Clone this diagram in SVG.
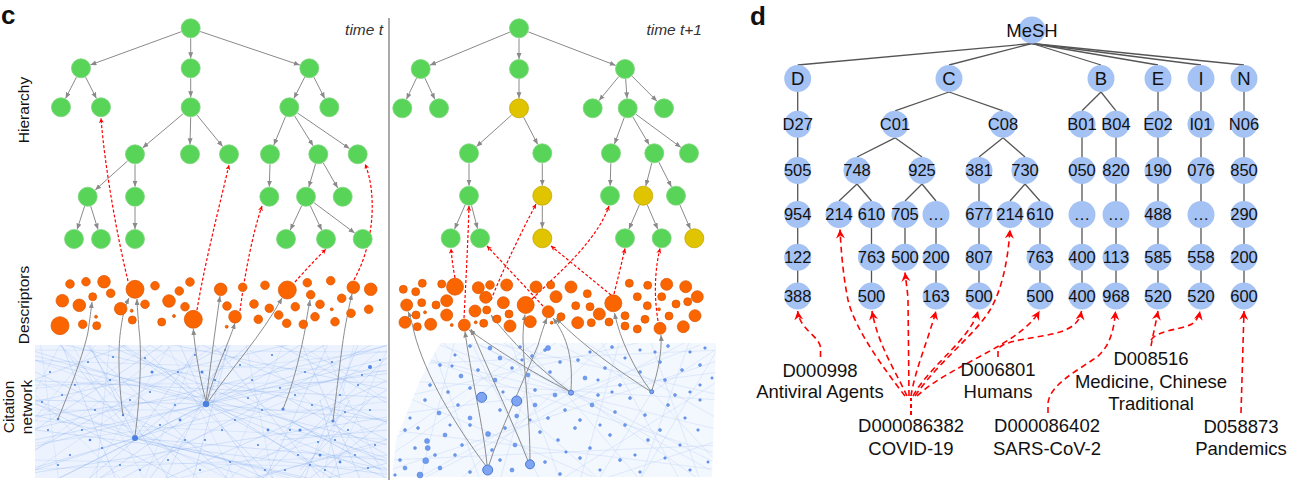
<svg xmlns="http://www.w3.org/2000/svg" width="1295" height="487" viewBox="0 0 1295 487">
<style>
text{font-family:"Liberation Sans",Arial,sans-serif;fill:#111}
.panel{font-size:26px;font-weight:bold}
.time{font-size:15.5px;font-style:italic;fill:#333}
.axis{font-size:15.5px}
.te{stroke:#8a8a8a;stroke-width:1;fill:none;marker-end:url(#mg)}
.g{fill:#58d558;stroke:#7fd37f;stroke-width:0.8}
.y{fill:#e0c400;stroke:#c4a800;stroke-width:0.8}
.o{fill:#fb6500;stroke:#d85400;stroke-width:0.7}
.rc{stroke:#f00;stroke-width:1.2;fill:none;stroke-dasharray:3 2;marker-end:url(#mrc)}
.ca{stroke:#8c8c8c;stroke-width:1;fill:none;marker-end:url(#mg)}
.nl{stroke:#6f9de9;stroke-width:0.4;fill:none;opacity:0.6}
.nl2{stroke:#9dbdf3;stroke-width:0.35;fill:none;opacity:0.7}
.nr{stroke:#a9c5f5;stroke-width:0.4;fill:none;opacity:0.7}
.dl{fill:#4d86e8}
.dr{fill:#6f9cf0;stroke:#4f7fdc;stroke-width:0.5}
.bn{fill:#7fa5f2;stroke:#3f6fcc;stroke-width:0.9}
.de{stroke:#555;stroke-width:1.3}
.dn{fill:#a4c2f4}
.nt{font-size:16.5px;text-anchor:middle}
.nt1{font-size:18.5px;text-anchor:middle}
.lb{font-size:18.5px;text-anchor:middle}
.ra{stroke:#f00;stroke-width:1.6;fill:none;stroke-dasharray:6 4;marker-end:url(#mrd)}
</style>
<defs>
<marker id="mg" markerUnits="userSpaceOnUse" markerWidth="6" markerHeight="6" refX="6" refY="2.5" orient="auto"><path d="M0,0 L6,2.5 L0,5 z" fill="#8a8a8a"/></marker>
<marker id="mrc" markerUnits="userSpaceOnUse" markerWidth="6" markerHeight="6" refX="5" refY="2.5" orient="auto"><path d="M0,0 L5,2.5 L0,5 L1.5,2.5 z" fill="#f00"/></marker>
<marker id="mrd" markerUnits="userSpaceOnUse" markerWidth="10" markerHeight="10" refX="9" refY="4.5" orient="auto"><path d="M0,0 L9,4.5 L0,9 L3,4.5 z" fill="#f00"/></marker>
<clipPath id="cl"><rect x="35" y="345" width="352" height="133"/></clipPath>
<clipPath id="cr"><polygon points="440,343 716,343 712,477 392,477 396,440 420,380"/></clipPath>
</defs>

<!-- Panel labels -->
<text class="panel" x="1" y="24">c</text>
<text class="panel" x="750" y="25">d</text>
<text class="time" x="383" y="35" text-anchor="end">time t</text>
<text class="time" x="702" y="35" text-anchor="end">time t+1</text>
<line x1="389" y1="18" x2="389" y2="480" stroke="#8c8c8c" stroke-width="1.5"/>
<text class="axis" transform="translate(28.5,110) rotate(-90)" text-anchor="middle">Hierarchy</text>
<text class="axis" transform="translate(28.5,305) rotate(-90)" text-anchor="middle">Descriptors</text>
<text class="axis" transform="translate(14,407) rotate(-90)" text-anchor="middle">Citation</text>
<text class="axis" transform="translate(31.5,407) rotate(-90)" text-anchor="middle">network</text>

<!-- Citation network left -->
<g id="citation-left">
<rect x="35" y="345" width="352" height="133" fill="#edf3fe"/>
<g clip-path="url(#cl)">
<path class="nl2" d="M20,360L400,372M20,390L400,350M20,420L400,440M20,445L400,400M20,470L400,455M40,340L60,490M70,340L150,490M110,340L95,490M165,340L240,490M200,340L140,490M245,340L275,490M285,340L220,490M320,340L390,490M355,340L320,490M20,372L250,490M20,400L330,490M20,436L100,340M20,462L180,340M140,340L400,480M260,340L400,385M20,355L200,420M180,478L400,420M100,478L300,395M250,478L400,440M20,380L120,478M300,345L387,400M60,345L20,420M380,350L230,478M150,345L20,430M330,478L387,350M215,345L35,470M250,350L387,470M90,478L170,345M40,410L387,410M35,385L387,382M35,460L387,468M35,350L387,352"/>
<path class="nl" d="M20,352L400,448M20,472L400,360M55,340L210,490M115,340L350,490M20,405L310,340M140,490L400,375M20,428L400,476M75,490L255,340M190,340L400,428M20,380L400,398M250,490L400,345M20,458L235,340M95,340L400,468M175,490L85,340M300,340L365,490M20,347L400,462M35,490L335,340M215,490L400,436M20,418L400,372M135,340L285,490M20,440L170,340M60,340L120,490M230,340L190,490M270,340L400,410M20,395L200,490M330,340L260,490M20,365L290,490M150,340L400,392M20,475L400,415M360,340L300,490M45,340L400,425M20,450L400,355M100,490L380,340M20,385L140,340M280,490L400,460M210,340L330,490M20,412L360,490M80,340L240,490M160,490L230,340M20,432L390,345"/>
<path class="nl" d="M206,404L35,360M206,404L60,478M206,404L387,370M206,404L387,478M206,404L120,345M206,404L300,345M206,404L150,478M206,404L260,478M206,404L35,440M206,404L387,420M206,404L230,345M206,404L180,345M206,404L35,400M206,404L340,478M206,404L387,345M206,404L100,478M135,438L35,470M135,438L90,345M135,438L250,478M135,438L387,460M135,438L35,400M135,438L200,345M135,438L60,345M135,438L300,478M290,420L380,470M300,470L370,400M280,440L387,430M320,400L340,478M260,460L387,390M350,400L300,478M290,400L387,455M310,478L387,420M300,450L387,470M330,410L387,440"/>
<g class="dl">
<circle cx="50" cy="372" r="1.1"/><circle cx="62" cy="395" r="1.1"/><circle cx="48" cy="430" r="1.1"/><circle cx="70" cy="455" r="1.1"/><circle cx="88" cy="362" r="1.1"/><circle cx="95" cy="410" r="1.1"/><circle cx="110" cy="380" r="1.1"/><circle cx="102" cy="448" r="1.1"/><circle cx="120" cy="465" r="1.1"/><circle cx="145" cy="358" r="1.1"/><circle cx="150" cy="392" r="1.1"/><circle cx="160" cy="425" r="1.1"/><circle cx="168" cy="460" r="1.1"/><circle cx="178" cy="372" r="1.1"/><circle cx="185" cy="440" r="1.1"/><circle cx="195" cy="355" r="1.1"/><circle cx="215" cy="380" r="1.1"/><circle cx="222" cy="430" r="1.1"/><circle cx="230" cy="462" r="1.1"/><circle cx="240" cy="365" r="1.1"/><circle cx="248" cy="398" r="1.1"/><circle cx="258" cy="445" r="1.1"/><circle cx="265" cy="470" r="1.1"/><circle cx="272" cy="355" r="1.1"/><circle cx="280" cy="388" r="1.1"/><circle cx="290" cy="430" r="1.1"/><circle cx="298" cy="455" r="1.1"/><circle cx="305" cy="372" r="1.1"/><circle cx="312" cy="405" r="1.1"/><circle cx="318" cy="442" r="1.1"/><circle cx="325" cy="470" r="1.1"/><circle cx="332" cy="362" r="1.1"/><circle cx="340" cy="395" r="1.1"/><circle cx="348" cy="430" r="1.1"/><circle cx="355" cy="455" r="1.1"/><circle cx="362" cy="375" r="1.1"/><circle cx="370" cy="410" r="1.1"/><circle cx="375" cy="445" r="1.1"/><circle cx="380" cy="360" r="1.1"/><circle cx="58" cy="465" r="1.1"/><circle cx="75" cy="385" r="1.1"/><circle cx="130" cy="400" r="1.1"/><circle cx="140" cy="470" r="1.1"/><circle cx="175" cy="405" r="1.1"/><circle cx="200" cy="470" r="1.1"/><circle cx="235" cy="420" r="1.1"/><circle cx="262" cy="410" r="1.1"/><circle cx="295" cy="395" r="1.1"/><circle cx="310" cy="465" r="1.1"/><circle cx="345" cy="412" r="1.1"/><circle cx="368" cy="468" r="1.1"/><circle cx="42" cy="402" r="1.1"/><circle cx="82" cy="430" r="1.1"/><circle cx="113" cy="357" r="1.1"/><circle cx="205" cy="440" r="1.1"/><circle cx="225" cy="350" r="1.1"/><circle cx="252" cy="380" r="1.1"/><circle cx="285" cy="470" r="1.1"/><circle cx="335" cy="440" r="1.1"/><circle cx="358" cy="385" r="1.1"/>
<circle cx="152" cy="372" r="1.5"/><circle cx="202" cy="372" r="1.5"/><circle cx="180" cy="420" r="1.4"/><circle cx="300" cy="430" r="1.6"/><circle cx="320" cy="455" r="1.5"/><circle cx="340" cy="462" r="1.4"/><circle cx="90" cy="440" r="1.3"/><circle cx="268" cy="430" r="1.4"/>
<circle cx="58" cy="419" r="1.3"/><circle cx="123" cy="415" r="1.2"/><circle cx="283" cy="409" r="1.6"/><circle cx="333" cy="421" r="1.6"/><circle cx="370" cy="367" r="2"/>
<circle cx="206" cy="404" r="3.2" fill="#4a80e0"/><circle cx="135" cy="438" r="3" fill="#4a80e0"/>
</g>
</g>
</g>

<!-- Citation network right -->
<g id="citation-right">
<polygon points="440,343 716,343 712,477 392,477 396,440 420,380" fill="#f3f7fe"/>
<g clip-path="url(#cr)">
<path class="nr" d="M390,350L720,430M390,470L720,360M440,340L600,480M500,340L700,480M390,400L650,340M560,480L720,380M390,430L720,470M460,480L610,340M580,340L720,420M390,380L720,400M640,480L720,345M390,455L560,340M470,340L720,465M540,480L470,340M650,340L700,480M390,348L720,455M420,480L690,340M600,480L720,440M390,415L720,372M520,340L640,480M390,442L540,340M430,340L480,480M620,340L580,480M571,393L440,345M571,393L700,345M571,393L420,477M571,393L710,470M571,393L480,345M652,392L715,350M652,392L600,477M652,392L715,460M652,392L560,345M390,365L720,350M390,460L720,445M455,340L420,480M510,340L560,480M600,340L680,480M690,340L640,480M540,340L500,480M390,390L600,480M480,340L720,395"/>
</g>
<g class="dr">
<circle cx="470" cy="346" r="1.5"/><circle cx="490" cy="348" r="2"/><circle cx="520" cy="347" r="1.5"/><circle cx="545" cy="350" r="1.5"/><circle cx="548" cy="348" r="2.5"/><circle cx="590" cy="352" r="1.3"/><circle cx="612" cy="347" r="1.5"/><circle cx="640" cy="350" r="1.3"/><circle cx="668" cy="346" r="1.5"/><circle cx="690" cy="352" r="1.3"/><circle cx="705" cy="348" r="1.3"/><circle cx="455" cy="355" r="1.3"/><circle cx="500" cy="358" r="2"/><circle cx="532" cy="356" r="1.5"/><circle cx="578" cy="360" r="1.5"/><circle cx="625" cy="358" r="1.3"/><circle cx="660" cy="362" r="1.5"/><circle cx="700" cy="365" r="1.5"/>
<circle cx="440" cy="365" r="1.5"/><circle cx="461" cy="376" r="2"/><circle cx="478" cy="370" r="1.5"/><circle cx="495" cy="380" r="2"/><circle cx="512" cy="368" r="1.5"/><circle cx="528" cy="375" r="2"/><circle cx="550" cy="372" r="1.5"/><circle cx="585" cy="378" r="2"/><circle cx="605" cy="368" r="1.5"/><circle cx="620" cy="385" r="1.5"/><circle cx="640" cy="372" r="1.5"/><circle cx="665" cy="380" r="1.5"/><circle cx="682" cy="370" r="1.5"/><circle cx="700" cy="385" r="1.3"/><circle cx="430" cy="385" r="1.5"/><circle cx="448" cy="392" r="1.5"/><circle cx="535" cy="390" r="1.5"/><circle cx="555" cy="395" r="2"/><circle cx="598" cy="395" r="1.5"/><circle cx="675" cy="395" r="1.5"/><circle cx="712" cy="378" r="1.2"/>
<circle cx="425" cy="400" r="1.5"/><circle cx="439" cy="413" r="2"/><circle cx="458" cy="405" r="1.5"/><circle cx="470" cy="418" r="2"/><circle cx="500" cy="410" r="1.5"/><circle cx="516.7" cy="416" r="2"/><circle cx="535" cy="405" r="2"/><circle cx="548" cy="418" r="1.5"/><circle cx="565" cy="410" r="1.5"/><circle cx="580" cy="420" r="1.5"/><circle cx="592" cy="405" r="2"/><circle cx="615" cy="412" r="1.5"/><circle cx="630" cy="398" r="1.5"/><circle cx="645" cy="415" r="1.5"/><circle cx="668" cy="405" r="1.5"/><circle cx="685" cy="418" r="1.3"/><circle cx="700" cy="400" r="1.3"/><circle cx="410" cy="418" r="1.3"/>
<circle cx="405" cy="430" r="1.5"/><circle cx="427" cy="441" r="2.5"/><circle cx="427.7" cy="448" r="2.5"/><circle cx="418" cy="428" r="1.5"/><circle cx="445" cy="435" r="2"/><circle cx="462" cy="445" r="1.5"/><circle cx="488" cy="434" r="2.5"/><circle cx="505" cy="428" r="1.5"/><circle cx="515" cy="445" r="2"/><circle cx="540" cy="432" r="1.5"/><circle cx="558" cy="440" r="1.5"/><circle cx="575" cy="428" r="1.5"/><circle cx="590" cy="448" r="1.5"/><circle cx="610" cy="435" r="1.5"/><circle cx="625" cy="425" r="1.5"/><circle cx="648" cy="440" r="1.5"/><circle cx="660" cy="430" r="1.5"/><circle cx="680" cy="445" r="1.3"/><circle cx="698" cy="430" r="1.3"/><circle cx="470" cy="425" r="1.5"/>
<circle cx="400" cy="460" r="1.5"/><circle cx="420" cy="475" r="3"/><circle cx="425.7" cy="460.7" r="3"/><circle cx="440" cy="468" r="2"/><circle cx="455" cy="455" r="1.5"/><circle cx="470" cy="472" r="1.5"/><circle cx="500" cy="460" r="1.5"/><circle cx="512" cy="470" r="2"/><circle cx="545" cy="462" r="1.5"/><circle cx="560" cy="474" r="1.5"/><circle cx="580" cy="458" r="1.5"/><circle cx="600" cy="470" r="1.3"/><circle cx="620" cy="460" r="1.5"/><circle cx="640" cy="472" r="1.3"/><circle cx="665" cy="458" r="1.3"/><circle cx="690" cy="470" r="1.3"/><circle cx="708" cy="462" r="1.2"/><circle cx="395" cy="475" r="1.3"/>
<circle cx="452" cy="366" r="1.3"/><circle cx="470" cy="388" r="1.5"/><circle cx="503" cy="392" r="1.3"/><circle cx="522" cy="360" r="1.3"/><circle cx="560" cy="362" r="1.5"/><circle cx="598" cy="380" r="1.3"/><circle cx="612" cy="392" r="1.3"/><circle cx="655" cy="352" r="1.3"/><circle cx="690" cy="392" r="1.3"/><circle cx="450" cy="425" r="1.3"/><circle cx="492" cy="450" r="1.5"/><circle cx="530" cy="420" r="1.3"/><circle cx="566" cy="452" r="1.3"/><circle cx="600" cy="425" r="1.3"/><circle cx="635" cy="455" r="1.3"/><circle cx="415" cy="448" r="1.5"/><circle cx="405" cy="468" r="2"/><circle cx="435" cy="455" r="1.5"/>
</g>
</g>

<!-- Connectors -->
<g id="connectors">
<!-- left hierarchy edges -->
<path class="te" d="M181.3,31.7L90.4,64.9"/>
<path class="te" d="M190.7,38.3L190.7,58.3"/>
<path class="te" d="M200.2,31.5L299.8,65.1"/>
<path class="te" d="M76.4,77.2L65.6,98.4"/>
<path class="te" d="M85.6,77.2L96.4,98.4"/>
<path class="te" d="M190.7,78.3L190.7,97.3"/>
<path class="te" d="M304.7,77.2L293.9,98.4"/>
<path class="te" d="M313.9,77.2L324.7,98.4"/>
<path class="te" d="M183.1,113.8L142.6,147.9"/>
<path class="te" d="M190.7,117.3L190,144.3"/>
<path class="te" d="M197,115.1L222.7,146.5"/>
<path class="te" d="M285.5,116.6L273.8,145.1"/>
<path class="te" d="M294.6,115.8L313.1,145.8"/>
<path class="te" d="M297.5,113L349.5,148.6"/>
<path class="te" d="M127.5,161L95.2,190"/>
<path class="te" d="M135,164.3L135,186.7"/>
<path class="te" d="M270,164.3L269.3,186.7"/>
<path class="te" d="M315.5,163.9L308.8,187.1"/>
<path class="te" d="M323.3,163L337.7,188"/>
<path class="te" d="M84.6,206.2L77.1,229.5"/>
<path class="te" d="M90.7,206.2L98,229.5"/>
<path class="te" d="M135,206.7L135,229"/>
<path class="te" d="M301.7,205.7L290.3,230"/>
<path class="te" d="M310.3,205.7L321.7,230"/>
<path class="te" d="M314,202.7L354.7,233"/>
<!-- right hierarchy edges -->
<path class="te" d="M509.8,32.1L429.9,65.2"/>
<path class="te" d="M519,38.3L519,59"/>
<path class="te" d="M528.3,31.9L615.7,65.4"/>
<path class="te" d="M416.5,78.1L406.5,99.2"/>
<path class="te" d="M424.9,78.1L434.8,99.2"/>
<path class="te" d="M519,79L519,98.3"/>
<path class="te" d="M618.7,76.7L599,100.6"/>
<path class="te" d="M625.7,79L627,98.3"/>
<path class="te" d="M632,76.1L657,101.2"/>
<path class="te" d="M511.6,115L476.4,146.6"/>
<path class="te" d="M523.6,117.2L537.7,144.4"/>
<path class="te" d="M624.2,117.7L614.5,143.9"/>
<path class="te" d="M632.8,116.9L649.2,144.7"/>
<path class="te" d="M635.8,114.2L680.9,147.4"/>
<path class="te" d="M469,163.3L469,185.7"/>
<path class="te" d="M542.3,163.3L542.3,185.7"/>
<path class="te" d="M610.8,163.3L610.2,185.7"/>
<path class="te" d="M651.8,163L645.8,186"/>
<path class="te" d="M658.9,162.2L671.4,186.8"/>
<path class="te" d="M465.1,204.9L454.6,229.1"/>
<path class="te" d="M471.5,205.4L477.5,228.6"/>
<path class="te" d="M542.3,205.7L542.3,228.3"/>
<path class="te" d="M639.4,204.9L628.9,229.1"/>
<path class="te" d="M647.3,204.9L657.7,229.1"/>
<path class="te" d="M679.9,204.9L690.4,229.1"/>
<!-- citation to descriptor arrows, left -->
<path class="ca" d="M58,419C70,390 84,352 88,332C90,318 91,310 92,302"/>
<path class="ca" d="M123,415C118,380 118,345 121,328C123,312 126,304 129,298"/>
<path class="ca" d="M135,436C140,400 142,350 139,330C138,315 137,305 137,299"/>
<path class="ca" d="M206,401C200,380 195,350 193.3,329"/>
<path class="ca" d="M206,401C210,370 215,330 220,296"/>
<path class="ca" d="M207,401C215,370 228,345 235,323"/>
<path class="ca" d="M208,402C230,370 262,335 282,298"/>
<path class="ca" d="M283,409C295,380 302,345 305,330C307,315 309,306 310,300"/>
<path class="ca" d="M333,421C338,380 342,345 345,328C348,312 350,302 352,294"/>
<!-- citation to descriptor arrows, right -->
<path class="ca" d="M486,466C455,425 425,375 414,332C412,322 410,316 408,311.5"/>
<path class="ca" d="M487,465C484,430 470,370 465,331.5"/>
<path class="ca" d="M489,465C500,430 520,390 538,345C541,335 544,325 547,318"/>
<path class="ca" d="M528,461C512,420 488,370 471,329"/>
<path class="ca" d="M569,391C530,372 490,345 469,330"/>
<path class="ca" d="M569,391C540,370 510,340 491,315"/>
<path class="ca" d="M530,460C530,420 524,370 523,340C523,328 524,320 525,314.5"/>
<path class="ca" d="M571,390C573,360 568,338 553,318"/>
<path class="ca" d="M650,391C620,372 582,345 556,318"/>
<path class="ca" d="M650,390C635,370 620,340 614.5,313"/>
<path class="ca" d="M652,390C658,372 662,352 661,335"/>
<!-- red dotted descriptor to hierarchy, left -->
<path class="rc" d="M128,281C118,240 105,170 101,118"/>
<path class="rc" d="M197,310C205,262 218,212 229,165"/>
<path class="rc" d="M240,311C245,272 253,232 262,206"/>
<path class="rc" d="M295,282Q310,265 326,249"/>
<path class="rc" d="M354,280C376,240 376,190 365,164"/>
<!-- red dotted descriptor to hierarchy, right -->
<path class="rc" d="M455,278Q452,262 451,248.5"/>
<path class="rc" d="M464,318C466,280 468,240 469,206"/>
<path class="rc" d="M543,306L487,246"/>
<path class="rc" d="M491,300C505,265 520,235 536,204"/>
<path class="rc" d="M532,299C562,270 597,240 609,206"/>
<path class="rc" d="M611,295L551,246"/>
<path class="rc" d="M614,294Q620,270 625,248.5"/>
<path class="rc" d="M658,321C653,290 656,265 660,248.5"/>
<!-- panel d edges -->
<g class="de">
<line x1="1032" y1="43.5" x2="797.7" y2="65"/><line x1="1032" y1="43.5" x2="949" y2="65"/><line x1="1032" y1="43.5" x2="1101" y2="65"/><line x1="1032" y1="43.5" x2="1158" y2="65"/><line x1="1032" y1="43.5" x2="1201" y2="65"/><line x1="1032" y1="43.5" x2="1244" y2="65"/>
<line x1="797.7" y1="78.5" x2="797.7" y2="296"/>
<line x1="949" y1="92" x2="895" y2="110.8"/><line x1="949" y1="92" x2="1003" y2="110.8"/>
<line x1="895" y1="137.8" x2="857" y2="157"/><line x1="895" y1="137.8" x2="922" y2="157"/>
<line x1="857" y1="184" x2="839" y2="201"/><line x1="857" y1="184" x2="871.5" y2="201"/>
<line x1="871.5" y1="214.5" x2="871.5" y2="296"/>
<line x1="922" y1="184" x2="905" y2="201"/><line x1="922" y1="184" x2="936" y2="201"/>
<line x1="905" y1="214.5" x2="905" y2="257.3"/><line x1="936" y1="214.5" x2="936" y2="296"/>
<line x1="1003" y1="137.8" x2="979" y2="157"/><line x1="1003" y1="137.8" x2="1025" y2="157"/>
<line x1="979" y1="170.5" x2="979" y2="296"/>
<line x1="1025" y1="184" x2="1010" y2="201"/><line x1="1025" y1="184" x2="1040" y2="201"/>
<line x1="1040" y1="214.5" x2="1040" y2="296"/>
<line x1="1101" y1="92" x2="1082" y2="110.8"/><line x1="1101" y1="92" x2="1116" y2="110.8"/>
<line x1="1082" y1="124.3" x2="1082" y2="296"/><line x1="1116" y1="124.3" x2="1116" y2="296"/>
<line x1="1158" y1="78.5" x2="1158" y2="296"/><line x1="1201" y1="78.5" x2="1201" y2="296"/><line x1="1244" y1="78.5" x2="1244" y2="296"/>
</g>
<!-- panel d red arrows -->
<path class="ra" d="M820.5,357L820.5,347C818,335 800,330 797.7,311"/>
<path d="M911,415L911,398" stroke="#f00" stroke-width="2" stroke-dasharray="4 3" fill="none"/>
<path class="ra" d="M905,396C885,370 855,330 848,300C843,275 841,250 840,229.5"/>
<path class="ra" d="M907,396C895,370 878,345 872,311"/>
<path class="ra" d="M909,396L908,300C907.5,290 906,282 905,272.5"/>
<path class="ra" d="M911,396C915,370 928,340 936,311"/>
<path class="ra" d="M913,396C930,365 970,340 978,311"/>
<path class="ra" d="M915,396C940,360 975,335 990,310C1002,290 1008,260 1010,229.5"/>
<path class="ra" d="M917,396C950,365 1020,345 1039.5,311"/>
<path class="ra" d="M998,357L998,350C1000,340 1040,338 1060,332C1075,327 1080,320 1081.5,311"/>
<path class="ra" d="M1048,413L1048,403C1050,385 1075,372 1097,357C1110,346 1114,330 1115.5,311"/>
<path class="ra" d="M1151,346C1153,335 1156,322 1158,311"/>
<path class="ra" d="M1151,340C1158,330 1180,330 1192,324C1197,320 1199,316 1200,311"/>
<path class="ra" d="M1241,413L1244,311"/>
</g>

<!-- Hierarchy nodes left -->
<g id="hier-left">
<circle class="g" cx="190.7" cy="28.3" r="9.5"/>
<circle class="g" cx="81" cy="68.3" r="9.5"/><circle class="g" cx="190.7" cy="68.3" r="9.5"/><circle class="g" cx="309.3" cy="68.3" r="9.5"/>
<circle class="g" cx="61" cy="107.3" r="9.5"/><circle class="g" cx="101" cy="107.3" r="9.5"/><circle class="g" cx="190.7" cy="107.3" r="9.5"/><circle class="g" cx="289.3" cy="107.3" r="9.5"/><circle class="g" cx="329.3" cy="107.3" r="9.5"/>
<circle class="g" cx="135" cy="154.3" r="9.5"/><circle class="g" cx="190" cy="154.3" r="9.5"/><circle class="g" cx="229" cy="154.3" r="9.5"/><circle class="g" cx="270" cy="154.3" r="9.5"/><circle class="g" cx="318.3" cy="154.3" r="9.5"/><circle class="g" cx="357.7" cy="154.3" r="9.5"/>
<circle class="g" cx="87.7" cy="196.7" r="9.5"/><circle class="g" cx="135" cy="196.7" r="9.5"/><circle class="g" cx="269.3" cy="196.7" r="9.5"/><circle class="g" cx="306" cy="196.7" r="9.5"/><circle class="g" cx="342.7" cy="196.7" r="9.5"/>
<circle class="g" cx="74" cy="239" r="9.5"/><circle class="g" cx="101" cy="239" r="9.5"/><circle class="g" cx="135" cy="239" r="9.5"/><circle class="g" cx="286" cy="239" r="9.5"/><circle class="g" cx="326" cy="239" r="9.5"/><circle class="g" cx="362.7" cy="239" r="9.5"/>
</g>

<!-- Hierarchy nodes right -->
<g id="hier-right">
<circle class="g" cx="519" cy="28.3" r="9.5"/>
<circle class="g" cx="420.7" cy="69" r="9.5"/><circle class="g" cx="519" cy="69" r="9.5"/><circle class="g" cx="625" cy="69" r="9.5"/>
<circle class="g" cx="402.3" cy="108.3" r="9.5"/><circle class="g" cx="439" cy="108.3" r="9.5"/><circle class="y" cx="519" cy="108.3" r="9.5"/><circle class="g" cx="592.7" cy="108.3" r="9.5"/><circle class="g" cx="627.7" cy="108.3" r="9.5"/><circle class="g" cx="664" cy="108.3" r="9.5"/>
<circle class="g" cx="469" cy="153.3" r="9.5"/><circle class="g" cx="542.3" cy="153.3" r="9.5"/><circle class="g" cx="611" cy="153.3" r="9.5"/><circle class="g" cx="654.3" cy="153.3" r="9.5"/><circle class="g" cx="689" cy="153.3" r="9.5"/>
<circle class="g" cx="469" cy="195.7" r="9.5"/><circle class="y" cx="542.3" cy="195.7" r="9.5"/><circle class="g" cx="610" cy="195.7" r="9.5"/><circle class="y" cx="643.3" cy="195.7" r="9.5"/><circle class="g" cx="676" cy="195.7" r="9.5"/>
<circle class="g" cx="450.7" cy="238.3" r="9.5"/><circle class="g" cx="480" cy="238.3" r="9.5"/><circle class="y" cx="542.3" cy="238.3" r="9.5"/><circle class="g" cx="625" cy="238.3" r="9.5"/><circle class="g" cx="661.7" cy="238.3" r="9.5"/><circle class="y" cx="694.3" cy="238.3" r="9.5"/>
</g>

<!-- Descriptors left -->
<g id="desc-left" class="o">
<circle cx="70" cy="284" r="4.3"/><circle cx="86" cy="281.7" r="4.3"/><circle cx="104" cy="281.7" r="6.3"/><circle cx="135" cy="289.3" r="9"/><circle cx="155" cy="285.7" r="4.3"/><circle cx="190" cy="282" r="4.3"/><circle cx="179.3" cy="291" r="4.3"/><circle cx="220.7" cy="289.3" r="6.3"/><circle cx="242.7" cy="287.3" r="4.3"/><circle cx="265" cy="285.3" r="4.3"/><circle cx="287.3" cy="290" r="9"/><circle cx="307.3" cy="282.7" r="4.3"/><circle cx="330.7" cy="280.7" r="4.3"/><circle cx="353.3" cy="287.3" r="6.3"/><circle cx="370.7" cy="289.3" r="6.3"/>
<circle cx="110.7" cy="293.3" r="4.3"/><circle cx="92.7" cy="296.7" r="4"/><circle cx="62.3" cy="300.7" r="6.3"/><circle cx="79.3" cy="305.3" r="6.3"/><circle cx="120.7" cy="308.7" r="6.3"/><circle cx="145" cy="304.3" r="4.3"/><circle cx="131.7" cy="310.7" r="1.5"/><circle cx="132.3" cy="320" r="4"/><circle cx="169" cy="301" r="6.3"/><circle cx="185" cy="306.7" r="4.3"/><circle cx="174" cy="316" r="1.5"/><circle cx="161.7" cy="322" r="4"/><circle cx="193.3" cy="319.3" r="9"/><circle cx="227" cy="306" r="4.3"/><circle cx="235" cy="316.7" r="6.3"/><circle cx="226.7" cy="326.7" r="1.5"/><circle cx="254" cy="304" r="4.3"/><circle cx="258.3" cy="319.3" r="4.3"/><circle cx="269.3" cy="308.3" r="4.3"/><circle cx="278.7" cy="315" r="4.3"/><circle cx="286.7" cy="323.3" r="4.3"/><circle cx="295.3" cy="306.7" r="4.3"/><circle cx="303.3" cy="324.3" r="4.3"/><circle cx="310.7" cy="294.7" r="4.3"/><circle cx="315" cy="316.7" r="4.3"/><circle cx="320" cy="304.3" r="4.3"/><circle cx="331.7" cy="309.3" r="1.5"/><circle cx="335" cy="321.7" r="4.3"/><circle cx="341.7" cy="298.3" r="4.3"/><circle cx="351" cy="313.3" r="4.3"/><circle cx="368.7" cy="309.3" r="4.3"/><circle cx="60" cy="325.7" r="9"/><circle cx="82.7" cy="324.3" r="4.3"/><circle cx="96.7" cy="325.7" r="4"/><circle cx="96" cy="316.7" r="1.5"/>
</g>

<!-- Descriptors right -->
<g id="desc-right" class="o">
<circle cx="403.3" cy="289.3" r="4"/><circle cx="415.7" cy="291.7" r="4"/><circle cx="422.3" cy="283.3" r="4"/><circle cx="441.7" cy="284" r="4"/><circle cx="455" cy="286.7" r="8.5"/><circle cx="478.3" cy="287.7" r="6"/><circle cx="490" cy="285" r="4.3"/><circle cx="506.7" cy="285" r="6"/><circle cx="536" cy="287" r="6"/><circle cx="550.7" cy="285" r="4"/><circle cx="571" cy="287" r="6"/><circle cx="587.3" cy="293.7" r="4"/><circle cx="629.3" cy="283.3" r="4"/><circle cx="647.7" cy="285.3" r="4"/><circle cx="666.7" cy="284.3" r="6"/><circle cx="685.7" cy="286.7" r="6"/><circle cx="697.3" cy="296.7" r="6"/>
<circle cx="406.7" cy="305" r="6"/><circle cx="421.7" cy="302.7" r="4"/><circle cx="436" cy="305" r="4"/><circle cx="446.7" cy="300.7" r="6"/><circle cx="485.7" cy="297.3" r="6"/><circle cx="486.7" cy="310" r="4"/><circle cx="503.3" cy="302.7" r="6"/><circle cx="509" cy="314" r="4"/><circle cx="525.7" cy="305" r="8.5"/><circle cx="556" cy="296.7" r="6"/><circle cx="548.3" cy="311.7" r="6"/><circle cx="561" cy="316.7" r="4"/><circle cx="575.7" cy="305.7" r="4"/><circle cx="590" cy="306.7" r="4"/><circle cx="599.3" cy="314" r="6"/><circle cx="613.3" cy="303.3" r="8.5"/><circle cx="637.3" cy="296.7" r="4"/><circle cx="647.3" cy="305.7" r="4"/><circle cx="661.7" cy="296.7" r="4"/><circle cx="676" cy="304" r="4"/><circle cx="687.7" cy="301.7" r="4"/>
<circle cx="416" cy="315" r="4"/><circle cx="425" cy="312.3" r="1.5"/><circle cx="446.7" cy="315" r="6"/><circle cx="475" cy="311" r="6"/><circle cx="405" cy="322.3" r="6"/><circle cx="417.3" cy="326.7" r="4"/><circle cx="430.7" cy="324.3" r="6"/><circle cx="451.7" cy="325" r="1.5"/><circle cx="464.3" cy="325" r="6"/><circle cx="475.7" cy="322.3" r="1.5"/><circle cx="483.7" cy="323.3" r="4"/><circle cx="497" cy="319" r="4"/><circle cx="510" cy="326" r="6"/><circle cx="530.3" cy="321.7" r="6"/><circle cx="551.7" cy="322.7" r="1.5"/><circle cx="577.7" cy="322.7" r="6"/><circle cx="591.3" cy="322.7" r="4"/><circle cx="609" cy="322" r="4"/><circle cx="625" cy="315.7" r="4"/><circle cx="625" cy="326" r="4"/><circle cx="637.3" cy="329" r="4"/><circle cx="645" cy="319.3" r="4"/><circle cx="659" cy="309.3" r="1.5"/><circle cx="669" cy="316" r="4"/><circle cx="660" cy="328.3" r="6"/><circle cx="683.3" cy="326.7" r="6"/><circle cx="695" cy="315.7" r="6"/>
</g>

<!-- Citation big nodes right -->
<g id="cit-nodes-right" class="bn">
<circle cx="481.7" cy="397.3" r="5"/><circle cx="516.7" cy="401" r="5"/><circle cx="487.7" cy="470" r="5"/><circle cx="530" cy="464.3" r="4.5"/><circle cx="571" cy="392.7" r="2.5"/><circle cx="651.7" cy="391.7" r="2"/>
</g>

<!-- Panel d nodes -->
<g id="mesh"><circle class="dn" cx="1032" cy="30" r="13.5"/><text class="nt1" x="1032" y="36.6">MeSH</text></g>
<g id="d-D"><circle class="dn" cx="797.7" cy="78.5" r="13.5"/><text class="nt1" x="797.7" y="85.1">D</text></g>
<g id="d-C"><circle class="dn" cx="949" cy="78.5" r="13.5"/><text class="nt1" x="949" y="85.1">C</text></g>
<g id="d-B"><circle class="dn" cx="1101" cy="78.5" r="13.5"/><text class="nt1" x="1101" y="85.1">B</text></g>
<g id="d-E"><circle class="dn" cx="1158" cy="78.5" r="13.5"/><text class="nt1" x="1158" y="85.1">E</text></g>
<g id="d-I"><circle class="dn" cx="1201" cy="78.5" r="13.5"/><text class="nt1" x="1201" y="85.1">I</text></g>
<g id="d-N"><circle class="dn" cx="1244" cy="78.5" r="13.5"/><text class="nt1" x="1244" y="85.1">N</text></g>
<g id="d-D27"><circle class="dn" cx="797.7" cy="124.3" r="13.5"/><text class="nt" x="797.7" y="130.2">D27</text></g>
<g id="d-C01"><circle class="dn" cx="895" cy="124.3" r="13.5"/><text class="nt" x="895" y="130.2">C01</text></g>
<g id="d-C08"><circle class="dn" cx="1003" cy="124.3" r="13.5"/><text class="nt" x="1003" y="130.2">C08</text></g>
<g id="d-B01"><circle class="dn" cx="1082" cy="124.3" r="13.5"/><text class="nt" x="1082" y="130.2">B01</text></g>
<g id="d-B04"><circle class="dn" cx="1116" cy="124.3" r="13.5"/><text class="nt" x="1116" y="130.2">B04</text></g>
<g id="d-E02"><circle class="dn" cx="1158" cy="124.3" r="13.5"/><text class="nt" x="1158" y="130.2">E02</text></g>
<g id="d-I01"><circle class="dn" cx="1201" cy="124.3" r="13.5"/><text class="nt" x="1201" y="130.2">I01</text></g>
<g id="d-N06"><circle class="dn" cx="1244" cy="124.3" r="13.5"/><text class="nt" x="1244" y="130.2">N06</text></g>
<g id="d-505"><circle class="dn" cx="797.7" cy="170.5" r="13.5"/><text class="nt" x="797.7" y="176.4">505</text></g>
<g id="d-748"><circle class="dn" cx="857" cy="170.5" r="13.5"/><text class="nt" x="857" y="176.4">748</text></g>
<g id="d-925"><circle class="dn" cx="922" cy="170.5" r="13.5"/><text class="nt" x="922" y="176.4">925</text></g>
<g id="d-381"><circle class="dn" cx="979" cy="170.5" r="13.5"/><text class="nt" x="979" y="176.4">381</text></g>
<g id="d-730"><circle class="dn" cx="1025" cy="170.5" r="13.5"/><text class="nt" x="1025" y="176.4">730</text></g>
<g id="d-050"><circle class="dn" cx="1082" cy="170.5" r="13.5"/><text class="nt" x="1082" y="176.4">050</text></g>
<g id="d-820"><circle class="dn" cx="1116" cy="170.5" r="13.5"/><text class="nt" x="1116" y="176.4">820</text></g>
<g id="d-190"><circle class="dn" cx="1158" cy="170.5" r="13.5"/><text class="nt" x="1158" y="176.4">190</text></g>
<g id="d-076"><circle class="dn" cx="1201" cy="170.5" r="13.5"/><text class="nt" x="1201" y="176.4">076</text></g>
<g id="d-850"><circle class="dn" cx="1244" cy="170.5" r="13.5"/><text class="nt" x="1244" y="176.4">850</text></g>
<g id="d-954"><circle class="dn" cx="797.7" cy="214.5" r="13.5"/><text class="nt" x="797.7" y="220.4">954</text></g>
<g id="d-214a"><circle class="dn" cx="839" cy="214.5" r="13.5"/><text class="nt" x="839" y="220.4">214</text></g>
<g id="d-610a"><circle class="dn" cx="871.5" cy="214.5" r="13.5"/><text class="nt" x="871.5" y="220.4">610</text></g>
<g id="d-705"><circle class="dn" cx="905" cy="214.5" r="13.5"/><text class="nt" x="905" y="220.4">705</text></g>
<g id="d-ella"><circle class="dn" cx="936" cy="214.5" r="13.5"/><text class="nt" x="936" y="220.4">…</text></g>
<g id="d-677"><circle class="dn" cx="979" cy="214.5" r="13.5"/><text class="nt" x="979" y="220.4">677</text></g>
<g id="d-214b"><circle class="dn" cx="1010" cy="214.5" r="13.5"/><text class="nt" x="1010" y="220.4">214</text></g>
<g id="d-610b"><circle class="dn" cx="1040" cy="214.5" r="13.5"/><text class="nt" x="1040" y="220.4">610</text></g>
<g id="d-ellb"><circle class="dn" cx="1082" cy="214.5" r="13.5"/><text class="nt" x="1082" y="220.4">…</text></g>
<g id="d-ellc"><circle class="dn" cx="1116" cy="214.5" r="13.5"/><text class="nt" x="1116" y="220.4">…</text></g>
<g id="d-488"><circle class="dn" cx="1158" cy="214.5" r="13.5"/><text class="nt" x="1158" y="220.4">488</text></g>
<g id="d-elld"><circle class="dn" cx="1201" cy="214.5" r="13.5"/><text class="nt" x="1201" y="220.4">…</text></g>
<g id="d-290"><circle class="dn" cx="1244" cy="214.5" r="13.5"/><text class="nt" x="1244" y="220.4">290</text></g>
<g id="d-122"><circle class="dn" cx="797.7" cy="257.3" r="13.5"/><text class="nt" x="797.7" y="263.2">122</text></g>
<g id="d-763a"><circle class="dn" cx="871.5" cy="257.3" r="13.5"/><text class="nt" x="871.5" y="263.2">763</text></g>
<g id="d-500a"><circle class="dn" cx="905" cy="257.3" r="13.5"/><text class="nt" x="905" y="263.2">500</text></g>
<g id="d-200a"><circle class="dn" cx="936" cy="257.3" r="13.5"/><text class="nt" x="936" y="263.2">200</text></g>
<g id="d-807"><circle class="dn" cx="979" cy="257.3" r="13.5"/><text class="nt" x="979" y="263.2">807</text></g>
<g id="d-763b"><circle class="dn" cx="1040" cy="257.3" r="13.5"/><text class="nt" x="1040" y="263.2">763</text></g>
<g id="d-400a"><circle class="dn" cx="1082" cy="257.3" r="13.5"/><text class="nt" x="1082" y="263.2">400</text></g>
<g id="d-113"><circle class="dn" cx="1116" cy="257.3" r="13.5"/><text class="nt" x="1116" y="263.2">113</text></g>
<g id="d-585"><circle class="dn" cx="1158" cy="257.3" r="13.5"/><text class="nt" x="1158" y="263.2">585</text></g>
<g id="d-558"><circle class="dn" cx="1201" cy="257.3" r="13.5"/><text class="nt" x="1201" y="263.2">558</text></g>
<g id="d-200b"><circle class="dn" cx="1244" cy="257.3" r="13.5"/><text class="nt" x="1244" y="263.2">200</text></g>
<g id="d-388"><circle class="dn" cx="797.7" cy="296" r="13.5"/><text class="nt" x="797.7" y="301.9">388</text></g>
<g id="d-500b"><circle class="dn" cx="871.5" cy="296" r="13.5"/><text class="nt" x="871.5" y="301.9">500</text></g>
<g id="d-163"><circle class="dn" cx="936" cy="296" r="13.5"/><text class="nt" x="936" y="301.9">163</text></g>
<g id="d-500c"><circle class="dn" cx="979" cy="296" r="13.5"/><text class="nt" x="979" y="301.9">500</text></g>
<g id="d-500d"><circle class="dn" cx="1040" cy="296" r="13.5"/><text class="nt" x="1040" y="301.9">500</text></g>
<g id="d-400b"><circle class="dn" cx="1082" cy="296" r="13.5"/><text class="nt" x="1082" y="301.9">400</text></g>
<g id="d-968"><circle class="dn" cx="1116" cy="296" r="13.5"/><text class="nt" x="1116" y="301.9">968</text></g>
<g id="d-520a"><circle class="dn" cx="1158" cy="296" r="13.5"/><text class="nt" x="1158" y="301.9">520</text></g>
<g id="d-520b"><circle class="dn" cx="1201" cy="296" r="13.5"/><text class="nt" x="1201" y="301.9">520</text></g>
<g id="d-600"><circle class="dn" cx="1244" cy="296" r="13.5"/><text class="nt" x="1244" y="301.9">600</text></g>

<!-- Descriptor labels -->
<g id="lab-antiviral"><text class="lb" x="820" y="377">D000998</text><text class="lb" x="820" y="397.5">Antiviral Agents</text></g>
<g id="lab-humans"><text class="lb" x="998" y="376">D006801</text><text class="lb" x="998" y="397.5">Humans</text></g>
<g id="lab-tcm"><text class="lb" x="1151" y="364.5">D008516</text><text class="lb" x="1151" y="387.5">Medicine, Chinese</text><text class="lb" x="1151" y="409.5">Traditional</text></g>
<g id="lab-covid"><text class="lb" x="911" y="432">D000086382</text><text class="lb" x="911" y="455">COVID-19</text></g>
<g id="lab-sars"><text class="lb" x="1047" y="432">D000086402</text><text class="lb" x="1047" y="455">SARS-CoV-2</text></g>
<g id="lab-pandemics"><text class="lb" x="1241" y="432.5">D058873</text><text class="lb" x="1241" y="455">Pandemics</text></g>
</svg>
